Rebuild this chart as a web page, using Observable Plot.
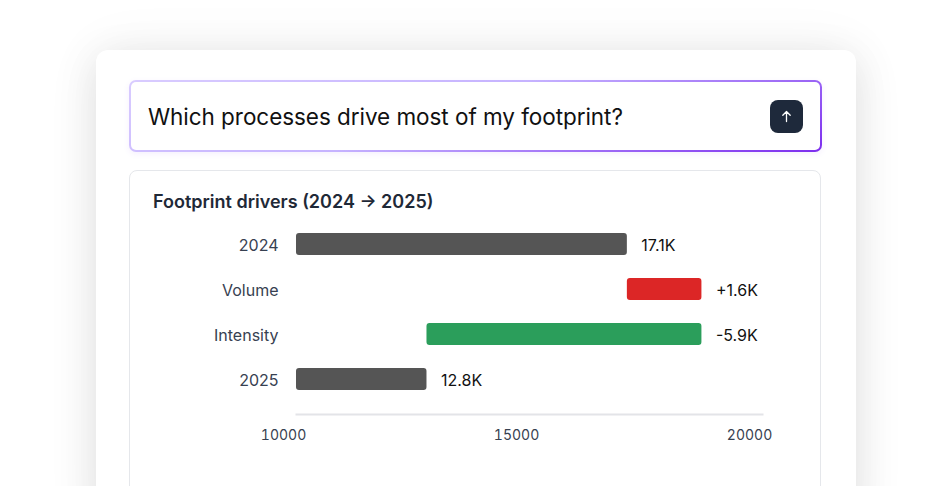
<!DOCTYPE html>
<html>
<head>
<meta charset="utf-8">
<script src="https://cdn.jsdelivr.net/npm/d3@7"></script>
<script src="https://cdn.jsdelivr.net/npm/@observablehq/plot@0.6"></script>
<style>
  html, body { margin: 0; padding: 0; background: #ffffff; width: 951px; height: 486px; overflow: hidden; font-family: Inter, "Noto Sans", sans-serif; }
  .outer { position: absolute; left: 96px; top: 50px; width: 760px; height: 480px; background: #fff; border-radius: 12px;
           box-shadow: 0 8px 40px rgba(0,0,0,0.10), 0 0 60px rgba(0,0,0,0.05); }
  .ask { position: absolute; left: 129px; top: 80px; width: 689px; height: 68px; border-radius: 7px;
         border: 2px solid transparent;
         background: linear-gradient(#fff,#fff) padding-box, linear-gradient(160deg, #d9ccff 0%, #c6b3ff 45%, #7c2dee 100%) border-box;
         box-shadow: 0 2px 6px rgba(124,58,237,0.08); }
  .ask .q { position: absolute; left: 17px; top: 0; line-height: 70px; font-size: 22.5px; color: #111111; letter-spacing: -0.05px; }
  .ask .btn { position: absolute; left: 639px; top: 18px; width: 33px; height: 33px; border-radius: 8px; background: #1e293b; }
  .ask .btn svg { position: absolute; left: 0; top: 0; }
  .card { position: absolute; left: 129px; top: 170px; width: 690px; height: 340px; border: 1.5px solid #e5e7eb; border-radius: 8px; background: #fff; }
  .title { position: absolute; left: 153px; top: 190px; font-size: 18px; font-weight: 600; color: #1f2937; line-height: 24px; }
  #chart { position: absolute; left: 130px; top: 210px; }
</style>
</head>
<body>
<div class="outer"></div>
<div class="ask">
  <div class="q">Which processes drive most of my footprint?</div>
  <div class="btn"><svg width="33" height="33" viewBox="0 0 33 33"><path d="M16.5 21.5 V11.5 M12.8 15.2 L16.5 11.5 L20.2 15.2" stroke="#ffffff" stroke-width="1.3" fill="none" stroke-linecap="round" stroke-linejoin="round"/></svg></div>
</div>
<div class="card"></div>
<div class="title">Footprint drivers (2024 → 2025)</div>
<div id="chart"></div>
<script>
const categories = ["2024", "Volume", "Intensity", "2025"];
const barStart = [10000, 17100, 18700, 10000];
const barEnd = [17100, 18700, 12800, 12800];
const valueLabels = ["17.1K", "+1.6K", "-5.9K", "12.8K"];
const kinds = ["total", "increase", "decrease", "total"];
const xTicks = [10000, 15000, 20000];
const kindColors = { total: "#555555", increase: "#dc2626", decrease: "#2b9e5b" };

const rows = categories.map((c, i) => ({
  cat: c, x1: barStart[i], x2: barEnd[i], label: valueLabels[i], kind: kinds[i],
  xEnd: Math.max(barStart[i], barEnd[i])
}));

const chart = Plot.plot({
  width: 690,
  height: 250,
  marginLeft: 166,
  marginRight: 58,
  marginTop: 9,
  marginBottom: 46,
  style: { fontFamily: "Inter, sans-serif", background: "transparent", overflow: "visible" },
  x: { domain: [10000, 20000] },
  y: { domain: categories, range: [9.4, 192.4], paddingInner: 0.52, paddingOuter: 0.26 },
  marks: [
    Plot.frame({ anchor: "bottom", stroke: "#e3e4e8", strokeWidth: 2 }),
    Plot.barX(rows, { y: "cat", x1: "x1", x2: "x2", fill: d => kindColors[d.kind], rx: 3 }),
    Plot.text(rows, { y: "cat", x: "xEnd", text: "label", textAnchor: "start", dx: 14, dy: 1, fontSize: 16, fill: "#111111" }),
    Plot.axisY({ tickSize: 0, tickPadding: 18, fontSize: 16, dy: 1, color: "#374151", label: null }),
    Plot.axisX({ ticks: xTicks, tickSize: 0, tickPadding: 16, dx: -13, fontSize: 14, color: "#374151", tickFormat: d3.format("d"), label: null })
  ]
});
document.getElementById("chart").appendChild(chart);
</script>
</body>
</html>
